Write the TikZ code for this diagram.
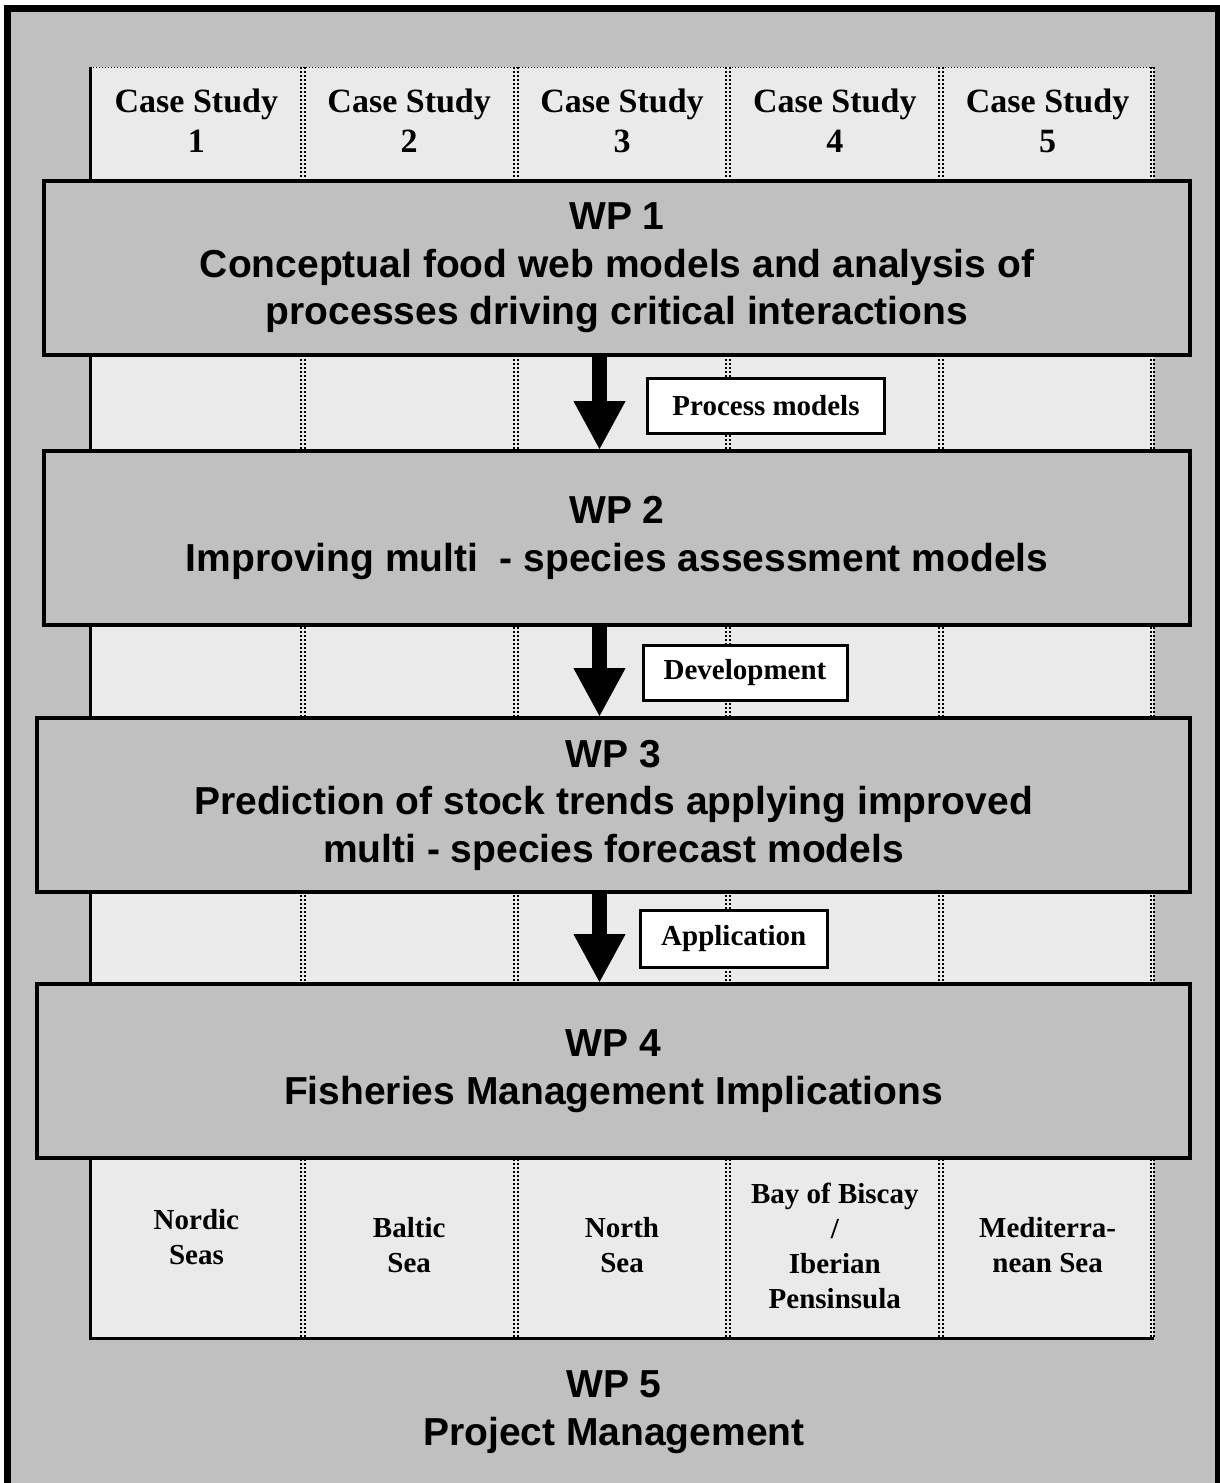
\documentclass[tikz,border=0pt]{standalone}
\usepackage{fontspec}
\setmainfont{Liberation Serif}
\setsansfont{Liberation Sans}
\usepackage{tikz}
\usetikzlibrary{arrows.meta}
\definecolor{frame}{RGB}{192, 192, 192}
\definecolor{panel}{RGB}{234, 234, 234}

\begin{document}
\begin{tikzpicture}[
   x=1pt, y=-1pt,
   wpbox/.style={rectangle, draw=black, fill=frame, line width=4, inner sep=0,
                 minimum width=1146, minimum height=174, align=center,
                 font=\sffamily\bfseries\fontsize{39}{47.5}\selectfont},
   wptext/.style={align=center, inner sep=0,
                  font=\sffamily\bfseries\fontsize{39}{47.5}\selectfont},
   casetext/.style={align=center, inner sep=0,
                    font=\bfseries\fontsize{34}{40}\selectfont},
   seatext/.style={align=center, inner sep=0,
                   font=\bfseries\fontsize{29}{35}\selectfont},
   lblbox/.style={rectangle, draw=black, fill=white, line width=3, inner sep=0,
                  minimum height=55, font=\bfseries\fontsize{29}{35}\selectfont},
   divider/.style={line width=2, dash pattern=on 2pt off 2pt},
   flow/.style={line width=15, -{Triangle[width=52pt, length=48pt, line width=1pt]}}
  ]

  % Column Width
  \pgfmathsetmacro{\w}{212.8}

  \useasboundingbox (0, 0) rectangle (1219, 1483);

  % outer frame and panel
  \draw[line width=7, fill=frame] (7.5, 8) rectangle (1218.5, 1500);
  \fill[panel] (90, 67) rectangle (1154, 1338);
  \draw[line width=1, dotted] (90, 67) -- (1154, 67);
  \draw[line width=3] (90.5, 67) -- (90.5, 1338) -- (1154, 1338);
  \draw[divider] (1151, 67) -- (1151, 1338);
  \draw[divider] (1154, 67) -- (1154, 1338);

  \foreach \i in {1,...,4} {
    \pgfmathsetmacro{\dx}{90 + \i * \w}
    \draw[divider] (\dx - 2, 67) -- (\dx - 2, 1338);
    \draw[divider] (\dx + 2, 67) -- (\dx + 2, 1338);
  }

  \foreach \i in {1,...,5} {
    \node (cs\i) at (90 + \i * \w - 0.5 * \w, 121) [casetext] {Case Study\\\i};
  }

  \node (wp1) at (617, 268) [wpbox] {WP 1\\Conceptual food web models and analysis of\\processes driving critical interactions};
  \node (wp2) at (617, 538) [wpbox] {WP 2\\Improving multi\ \ - species assessment models};
  \node (wp3) at (613.5, 805) [wpbox, minimum width=1153] {WP 3\\Prediction of stock trends applying improved\\multi - species forecast models};
  \node (wp4) at (613.5, 1071) [wpbox, minimum width=1153] {WP 4\\Fisheries Management Implications};

  \coordinate (ax) at (599.5, 0);
  \foreach \B/\E in {wp1/wp2, wp2/wp3, wp3/wp4} {
    \draw[flow] (\B.south -| ax) -- (\E.north -| ax);
  }

  \node (lbl1) at (766, 406) [lblbox, minimum width=237] {Process models};
  \node (lbl2) at (745, 672.5) [lblbox, minimum width=204] {Development};
  \node (lbl3) at (733.75, 938.5) [lblbox, minimum width=187.5, minimum height=57] {Application};

  \foreach \i/\yy/\txt in {1/1237/{Nordic\\Seas}, 2/1245/{Baltic\\Sea}, 3/1245/{North\\Sea},
                           4/1246/{Bay of Biscay\\/\\Iberian\\Pensinsula}, 5/1245/{Mediterra-\\nean Sea}} {
    \node (sea\i) at (90 + \i * \w - 0.5 * \w, \yy) [seatext] {\txt};
  }

  \node (wp5) at (614, 1412) [wptext] {WP 5\\Project Management};

\end{tikzpicture}
\end{document}
